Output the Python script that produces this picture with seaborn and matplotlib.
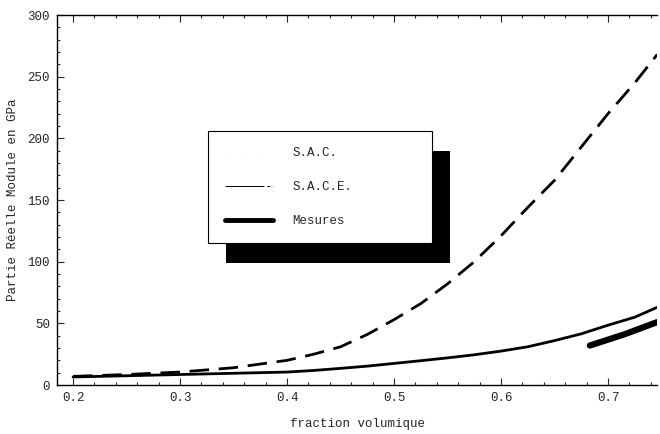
import numpy as np
import pandas as pd
import seaborn as sns
import matplotlib
matplotlib.use("Agg")
from matplotlib import pyplot as plt
from matplotlib.lines import Line2D
from matplotlib.patches import Rectangle
from matplotlib.ticker import MultipleLocator

# values
x_sac = [0.20, 0.25, 0.30, 0.35, 0.40, 0.425, 0.45, 0.475, 0.50, 0.525, 0.55,
         0.575, 0.60, 0.625, 0.65, 0.675, 0.70, 0.725, 0.746]
y_sac = [7, 8.5, 10.5, 14, 20, 25, 31, 41, 53, 66, 82,
         100, 121, 144, 166, 193, 220, 245, 268]

x_sace = [0.20, 0.25, 0.30, 0.35, 0.40, 0.425, 0.45, 0.475, 0.50, 0.525, 0.55,
          0.575, 0.60, 0.625, 0.65, 0.675, 0.70, 0.725, 0.746]
y_sace = [6.5, 7.5, 8.5, 9.5, 10.5, 11.8, 13.5, 15.3, 17.5, 19.7, 22,
          24.5, 27.5, 31, 36, 41.5, 48.5, 55, 63]

x_mes = [0.683, 0.715, 0.746]
y_mes = [32, 41, 51]

labels = ["S.A.C.", "S.A.C.E.", "Mesures"]

sns.set_style("ticks")
plt.rcParams['font.family'] = ['Liberation Mono', 'DejaVu Sans Mono']
plt.rcParams['font.size'] = 9

fig = plt.figure(figsize=(6.6, 4.34), dpi=100)
ax = fig.add_axes([0.0864, 0.1129, 0.9091, 0.8525])

sns.lineplot(x=x_sac, y=y_sac, ax=ax, color='black', linewidth=2.0,
             linestyle=(0, (7, 3.5)), sort=False)
sns.lineplot(x=x_sace, y=y_sace, ax=ax, color='black', linewidth=2.0, sort=False)
sns.lineplot(x=x_mes, y=y_mes, ax=ax, color='black', linewidth=4.5, sort=False,
             solid_capstyle='round')

ax.set_xlim(0.185, 0.7458)
ax.set_ylim(0, 300)
ax.xaxis.set_major_locator(MultipleLocator(0.1))
ax.xaxis.set_minor_locator(MultipleLocator(0.02))
ax.yaxis.set_major_locator(MultipleLocator(50))
ax.yaxis.set_minor_locator(MultipleLocator(10))
ax.set_xticks([0.2, 0.3, 0.4, 0.5, 0.6, 0.7])
ax.set_xticklabels(["0.2", "0.3", "0.4", "0.5", "0.6", "0.7"])
ax.tick_params(which='both', direction='in', top=True, right=False, width=0.8)
ax.tick_params(which='major', length=5, pad=5)
ax.tick_params(which='minor', length=2.5)
ax.spines['right'].set_visible(False)
for s in ['left', 'bottom', 'top']:
    ax.spines[s].set_linewidth(1.0)
    ax.spines[s].set_color('black')

ax.set_xlabel("fraction volumique", labelpad=10)
ax.set_ylabel("Partie Réelle Module en GPa", labelpad=6)

handles = [
    Line2D([], [], color='#dddddd', linewidth=0.6, linestyle=(0, (1, 20))),
    Line2D([], [], color='black', linewidth=0.7, linestyle=(0, (40, 3, 3, 3))),
    Line2D([], [], color='black', linewidth=3.5),
]
leg = ax.legend(handles, labels, loc='upper left',
                bbox_to_anchor=(0.2524, 0.3865, 0.3733, 0.3), mode='expand',
                frameon=True, fancybox=False, edgecolor='black', framealpha=1,
                handlelength=3.9, handletextpad=1.5, borderpad=1.3,
                labelspacing=1.75, borderaxespad=0)
leg.get_frame().set_linewidth(0.8)
leg.set_zorder(5)

# black drop shadow behind the legend box
fig.canvas.draw()
bb = leg.get_window_extent()
shadow = Rectangle((bb.x0 + 18, bb.y0 - 20), bb.width, bb.height,
                   transform=None, facecolor='black', edgecolor='none', zorder=4)
ax.add_artist(shadow)

fig.savefig("out.png", dpi=100)
